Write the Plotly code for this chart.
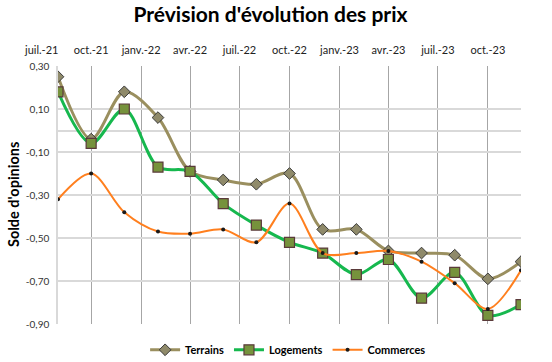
import plotly.graph_objects as go
from datetime import date

dates = ["2021-08-01", "2021-10-01", "2021-12-01", "2022-02-01", "2022-04-01",
         "2022-06-01", "2022-08-01", "2022-10-01", "2022-12-01", "2023-02-01",
         "2023-04-01", "2023-06-01", "2023-08-01", "2023-10-01", "2023-12-01"]
terrains = [0.25, -0.04, 0.18, 0.06, -0.19, -0.23, -0.25, -0.20, -0.46, -0.46,
            -0.56, -0.57, -0.58, -0.69, -0.61]
logements = [0.18, -0.06, 0.10, -0.17, -0.19, -0.34, -0.44, -0.52, -0.57, -0.67,
             -0.60, -0.78, -0.66, -0.86, -0.81]
commerces = [-0.32, -0.20, -0.38, -0.47, -0.48, -0.46, -0.52, -0.34, -0.57, -0.57,
             -0.56, -0.61, -0.71, -0.83, -0.65]

tick_dates = ["2021-10-01", "2022-01-01", "2022-04-01", "2022-07-01", "2022-10-01",
              "2023-01-01", "2023-04-01", "2023-07-01", "2023-10-01"]
tick_labels = ["oct.-21", "janv.-22", "avr.-22", "juil.-22", "oct.-22",
               "janv.-23", "avr.-23", "juil.-23", "oct.-23"]
first_label_date = "2021-07-01"
first_label = "juil.-21"

y_ticks = [0.30, 0.10, -0.10, -0.30, -0.50, -0.70, -0.90]
y_labels = ["0,30", "0,10", "-0,10", "-0,30", "-0,50", "-0,70", "-0,90"]

x_start, x_end = "2021-08-01", "2023-12-01"

FONT = "Lato"

fig = go.Figure()
fig.add_trace(go.Scatter(
    x=dates, y=terrains, name="Terrains", mode="lines+markers",
    line=dict(color="#9A8F5F", width=3, shape="spline", smoothing=0.9),
    marker=dict(symbol="diamond", size=9, color="#8F8A6A",
                line=dict(color="#3A3A3A", width=1)),
))
fig.add_trace(go.Scatter(
    x=dates, y=logements, name="Logements", mode="lines+markers",
    line=dict(color="#16B84E", width=3, shape="spline", smoothing=0.9),
    marker=dict(symbol="square", size=10, color="#76923C",
                line=dict(color="#5A3A3A", width=1.2)),
))
fig.add_trace(go.Scatter(
    x=dates, y=commerces, name="Commerces", mode="lines+markers",
    line=dict(color="#FF7F1E", width=2, shape="spline", smoothing=0.9),
    marker=dict(symbol="circle", size=4, color="#1A1A1A"),
))

# position of the out-of-range first label (Excel draws it left of the plot)
d0 = date.fromisoformat(x_start)
d1 = date.fromisoformat(x_end)
dl = date.fromisoformat(first_label_date)
frac = (dl - d0).days / (d1 - d0).days

fig.add_annotation(x=frac, y=1, xref="paper", yref="paper", text=first_label,
                   showarrow=False, xanchor="center", yanchor="middle", yshift=17,
                   font=dict(family=FONT, size=11, color="#222222"))

# y-axis title
fig.add_annotation(x=0, y=0.5, xref="paper", yref="paper",
                   text="<b>Solde d'opinions</b>", textangle=-90,
                   showarrow=False, xanchor="center", yanchor="middle", xshift=-45,
                   font=dict(family=FONT, size=14.5, color="#000000"))

fig.update_layout(
    width=552, height=362,
    margin=dict(l=58, r=31, t=66, b=38, autoexpand=False),
    paper_bgcolor="white", plot_bgcolor="white",
    font=dict(family=FONT, color="#222222"),
    title=dict(text="<b>Prévision d'évolution des prix</b>", x=0.49, xanchor="center",
               y=1 - 15 / 362, yanchor="middle", font=dict(family=FONT, size=21, color="#000000")),
    showlegend=True,
    legend=dict(orientation="h", x=0.497, xanchor="center", y=-0.1, yanchor="middle",
                font=dict(family=FONT, size=11, color="#000000", weight="bold"),
                itemwidth=30, tracegroupgap=0),
    xaxis=dict(
        type="date", range=[x_start, x_end], side="top",
        tickvals=tick_dates, ticktext=tick_labels,
        showgrid=True, gridcolor="#A6A6A6", gridwidth=1,
        showline=False, ticks="", zeroline=False, automargin=False,
        ticklabelstandoff=9,
        tickfont=dict(family=FONT, size=11, color="#222222"),
    ),
    yaxis=dict(
        range=[-0.90, 0.30], tickvals=y_ticks, ticktext=y_labels,
        showgrid=True, gridcolor="#D9D9D9", gridwidth=1.5,
        zeroline=True, zerolinecolor="#D9D9D9", zerolinewidth=1.5,
        showline=True, linecolor="#D9D9D9", linewidth=1.5,
        ticks="", automargin=False, ticklabelstandoff=5,
        tickfont=dict(family=FONT, size=10, color="#333333"),
    ),
)

fig.write_html("out.html", config={"displayModeBar": False},
               post_script="document.body.style.margin='0';")
